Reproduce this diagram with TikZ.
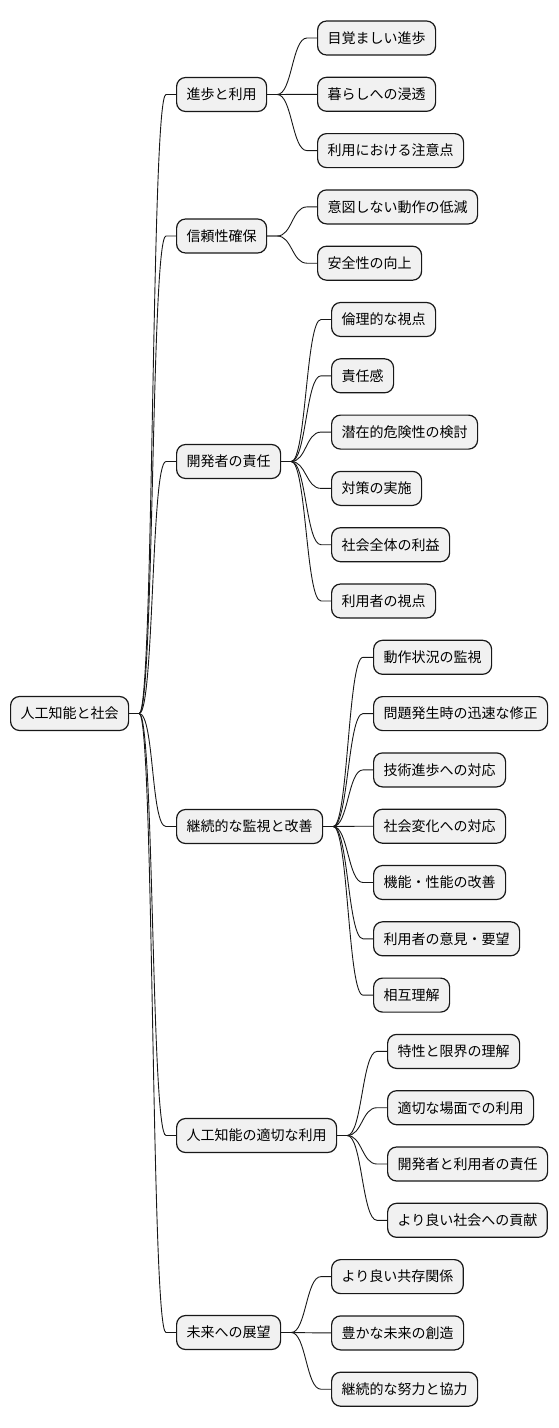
\documentclass[tikz,border=0pt]{standalone}
\usepackage{fontspec}
\setmainfont{Noto Sans CJK JP}
\usetikzlibrary{calc}
\definecolor{boxfill}{HTML}{F1F1F1}
\definecolor{boxline}{HTML}{181818}
\tikzset{
  mnode/.style={draw=boxline, fill=boxfill, line width=1.2pt, rounded corners=9pt,
    minimum height=34pt, inner xsep=10pt, inner ysep=0pt, anchor=west,
    font=\fontsize{14pt}{16pt}\selectfont, text=black},
  link/.style={draw=boxline, line width=0.9pt}
}
\newcommand\lk[2]{\draw[link] (#1.east) -- ++(10,0) .. controls +(15,0) and +(-15,0) .. ($(#2.west)+(-10,0)$) -- (#2.west);}
\newcommand\cy[1]{38+56.3*(#1-1)}
\begin{document}
\begin{tikzpicture}[x=1pt,y=-1pt]
\useasboundingbox (0,0) rectangle (558,1428);
% root
\node[mnode] (root) at (10,713.5) {人工知能と社会};
% level 1
\node[mnode] (a) at (176,94.5) {進歩と利用};
\node[mnode] (b) at (176,236) {信頼性確保};
\node[mnode] (c) at (176,461.5) {開発者の責任};
\node[mnode] (d) at (176,826.5) {継続的な監視と改善};
\node[mnode] (e) at (176,1135.5) {人工知能の適切な利用};
\node[mnode] (f) at (176,1332.5) {未来への展望};
% level 2
\node[mnode] (a1) at (317,{\cy{1}}) {目覚ましい進歩};
\node[mnode] (a2) at (317,{\cy{2}}) {暮らしへの浸透};
\node[mnode] (a3) at (317,{\cy{3}}) {利用における注意点};
\node[mnode] (b1) at (317,{\cy{4}}) {意図しない動作の低減};
\node[mnode] (b2) at (317,{\cy{5}}) {安全性の向上};
\node[mnode] (c1) at (331,{\cy{6}}) {倫理的な視点};
\node[mnode] (c2) at (331,{\cy{7}}) {責任感};
\node[mnode] (c3) at (331,{\cy{8}}) {潜在的危険性の検討};
\node[mnode] (c4) at (331,{\cy{9}}) {対策の実施};
\node[mnode] (c5) at (331,{\cy{10}}) {社会全体の利益};
\node[mnode] (c6) at (331,{\cy{11}}) {利用者の視点};
\node[mnode] (d1) at (373,{\cy{12}}) {動作状況の監視};
\node[mnode] (d2) at (373,{\cy{13}}) {問題発生時の迅速な修正};
\node[mnode] (d3) at (373,{\cy{14}}) {技術進歩への対応};
\node[mnode] (d4) at (373,{\cy{15}}) {社会変化への対応};
\node[mnode] (d5) at (373,{\cy{16}}) {機能・性能の改善};
\node[mnode] (d6) at (373,{\cy{17}}) {利用者の意見・要望};
\node[mnode] (d7) at (373,{\cy{18}}) {相互理解};
\node[mnode] (e1) at (387,{\cy{19}}) {特性と限界の理解};
\node[mnode] (e2) at (387,{\cy{20}}) {適切な場面での利用};
\node[mnode] (e3) at (387,{\cy{21}}) {開発者と利用者の責任};
\node[mnode] (e4) at (387,{\cy{22}}) {より良い社会への貢献};
\node[mnode] (f1) at (331,{\cy{23}}) {より良い共存関係};
\node[mnode] (f2) at (331,{\cy{24}}) {豊かな未来の創造};
\node[mnode] (f3) at (331,{\cy{25}}) {継続的な努力と協力};
% links
\foreach \ch in {a,b,c,d,e,f}{\lk{root}{\ch}}
\foreach \ch in {a1,a2,a3}{\lk{a}{\ch}}
\foreach \ch in {b1,b2}{\lk{b}{\ch}}
\foreach \ch in {c1,c2,c3,c4,c5,c6}{\lk{c}{\ch}}
\foreach \ch in {d1,d2,d3,d4,d5,d6,d7}{\lk{d}{\ch}}
\foreach \ch in {e1,e2,e3,e4}{\lk{e}{\ch}}
\foreach \ch in {f1,f2,f3}{\lk{f}{\ch}}
\end{tikzpicture}
\end{document}
